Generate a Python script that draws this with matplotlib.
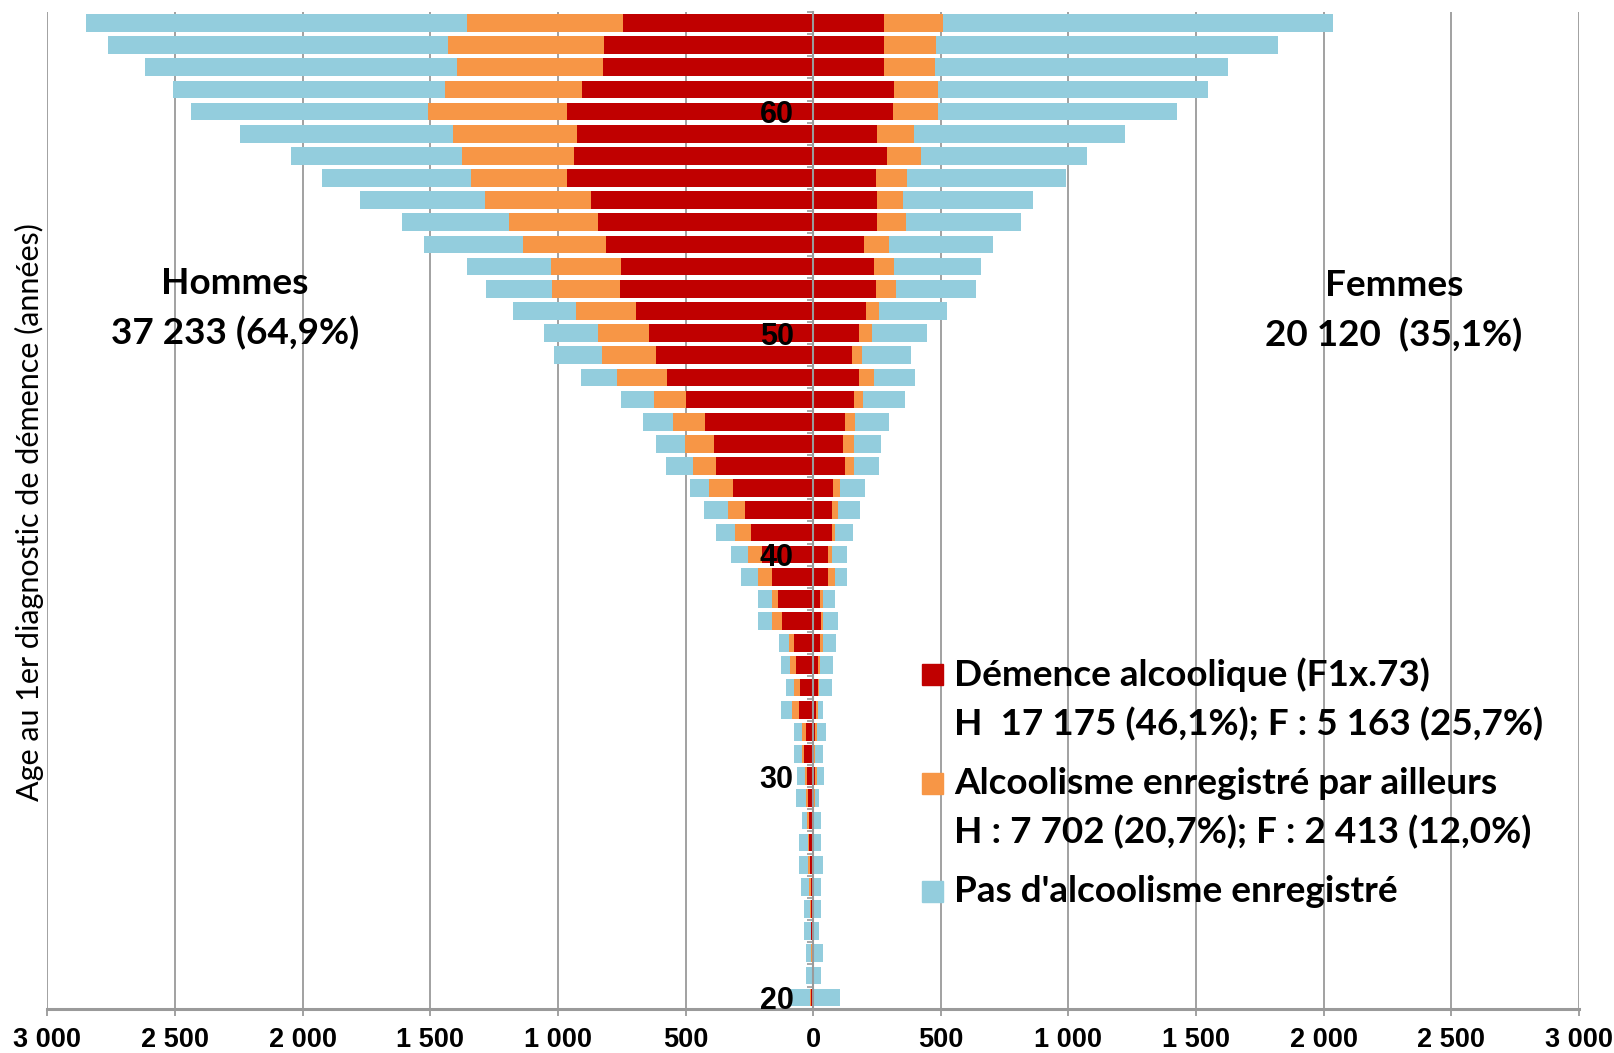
import matplotlib
matplotlib.use("Agg")
import matplotlib.pyplot as plt
import numpy as np
from matplotlib.patches import Rectangle
from matplotlib.ticker import FuncFormatter

# age at first dementia diagnosis, 20 .. 64
ages = np.arange(20, 65)

# men (counts per age, from 20 up to 64)
men_red = [8, 3, 4, 7, 8, 10, 14, 16, 17, 20,
           25, 35, 28, 56, 50, 69, 76, 123, 136, 162,
           200, 243, 268, 315, 382, 390, 424, 497, 571, 616,
           644, 696, 756, 751, 810, 844, 870, 964, 936, 924,
           964, 904, 824, 818, 744]
men_orange = [4, 3, 6, 3, 4, 6, 5, 6, 6, 9,
              9, 7, 14, 26, 26, 20, 19, 39, 26, 53,
              56, 65, 66, 93, 87, 113, 126, 126, 198, 213,
              198, 234, 266, 278, 325, 346, 414, 376, 440, 486,
              546, 540, 572, 612, 612]
men_blue = [83, 23, 19, 26, 24, 32, 36, 33, 19, 39,
            28, 33, 33, 46, 32, 39, 39, 53, 53, 67,
            65, 73, 94, 74, 107, 113, 118, 128, 140, 187,
            214, 246, 261, 327, 388, 420, 492, 584, 668, 834,
            926, 1064, 1220, 1334, 1494]

# women
women_red = [3, 2, 2, 2, 2, 2, 3, 3, 3, 3,
             9, 3, 9, 12, 18, 18, 25, 31, 25, 59,
             59, 72, 72, 78, 124, 117, 124, 158, 179, 151,
             179, 206, 245, 239, 198, 251, 251, 246, 290, 251,
             311, 317, 276, 276, 276]
women_orange = [2, 1, 1, 1, 2, 2, 2, 2, 2, 4,
                5, 6, 7, 6, 4, 7, 13, 7, 13, 26,
                13, 13, 26, 26, 34, 41, 40, 39, 60, 40,
                52, 52, 79, 78, 100, 114, 100, 123, 133, 144,
                178, 172, 200, 207, 232]
women_blue = [99, 28, 36, 20, 25, 27, 34, 26, 26, 16,
              30, 30, 35, 20, 50, 53, 53, 60, 47, 46,
              59, 72, 86, 100, 99, 106, 134, 161, 158, 193,
              213, 266, 313, 340, 405, 451, 511, 620, 651, 827,
              937, 1057, 1150, 1337, 1530]

age_labels = [20, 30, 40, 50, 60]
xticks = np.arange(-3000, 3001, 500)

legend_lines = [
    ("Démence alcoolique (F1x.73)", "H  17 175 (46,1%); F : 5 163 (25,7%)"),
    ("Alcoolisme enregistré par ailleurs", "H : 7 702 (20,7%); F : 2 413 (12,0%)"),
    ("Pas d'alcoolisme enregistré", None),
]

RED, ORANGE, BLUE = "#C00000", "#F79646", "#93CDDD"
GRID = "#9a9a9a"
NUM_FONT = ["Liberation Sans", "DejaVu Sans"]

W, H = 1615, 1053
fig = plt.figure(figsize=(W / 100, H / 100), dpi=100)
ax = fig.add_axes([47.4 / W, 1 - 1008.7 / H, (1579 - 47.4) / W, (1008.7 - 11.9) / H])

mr, mo, mb = map(np.array, (men_red, men_orange, men_blue))
wr, wo, wb = map(np.array, (women_red, women_orange, women_blue))
bh = 0.8

ax.barh(ages, -mr, height=bh, color=RED, zorder=2)
ax.barh(ages, -mo, left=-mr, height=bh, color=ORANGE, zorder=2)
ax.barh(ages, -mb, left=-(mr + mo), height=bh, color=BLUE, zorder=2)
ax.barh(ages, wr, height=bh, color=RED, zorder=2)
ax.barh(ages, wo, left=wr, height=bh, color=ORANGE, zorder=2)
ax.barh(ages, wb, left=wr + wo, height=bh, color=BLUE, zorder=2)

ax.set_xlim(-3000, 3000)
ax.set_ylim(19.5, 64.5)

# x axis
ax.set_xticks(xticks)
ax.xaxis.set_major_formatter(
    FuncFormatter(lambda v, p: f"{abs(int(v)):,}".replace(",", " "))
)
ax.xaxis.grid(True, color=GRID, lw=1.3)
ax.set_axisbelow(True)
ax.tick_params(axis="x", length=5, width=1.3, color=GRID, pad=8,
               labelsize=19.5)
for lab in ax.get_xticklabels():
    lab.set_fontfamily(NUM_FONT)
    lab.set_fontweight("bold")

# y axis sits on x = 0
ax.spines["left"].set_position(("data", 0))
ax.spines["left"].set_color(GRID)
ax.spines["left"].set_linewidth(1.5)
ax.spines["left"].set_zorder(5)
ax.spines["bottom"].set_color(GRID)
ax.spines["bottom"].set_linewidth(2.2)
ax.spines["top"].set_visible(False)
ax.spines["right"].set_visible(False)
ax.set_yticks(age_labels)
ax.set_yticks(np.arange(19.5, 65, 1), minor=True)
ax.tick_params(axis="y", which="major", length=0, pad=14, labelsize=22)
ax.tick_params(axis="y", which="minor", length=4, width=1.2, color=GRID)
for lab in ax.get_yticklabels():
    lab.set_fontfamily(NUM_FONT)
    lab.set_fontweight("bold")
ax.yaxis.set_zorder(5)


def fx(px):
    return px / W


def fy(py):
    return 1 - py / H


title_font = dict(family=["Lato", "DejaVu Sans"], fontweight="bold",
                  fontsize=26.6, ha="center", va="center")
fig.text(fx(235), fy(284), "Hommes", **title_font)
fig.text(fx(235), fy(333), "37 233 (64,9%)", **title_font)
fig.text(fx(1394), fy(285), "Femmes", **title_font)
fig.text(fx(1394), fy(335), "20 120  (35,1%)", **title_font)

fig.text(fx(29), fy(512), "Age au 1er diagnostic de démence (années)",
         family=["Lato", "DejaVu Sans"], fontsize=22, rotation=90,
         ha="center", va="center")

# legend drawn by hand so the swatch sits on the first line
leg_font = dict(family=["Lato", "DejaVu Sans"], fontweight="bold",
                fontsize=26.6, ha="left", va="center")
rows = [(674.5, 724), (783.6, 832), (891.7, None)]
for (first, second), (y1, y2), col in zip(legend_lines, rows, [RED, ORANGE, BLUE]):
    fig.patches.append(Rectangle((fx(922), fy(y1 + 10.5)), 21 / W, 21 / H,
                                 transform=fig.transFigure, color=col))
    fig.text(fx(954), fy(y1), first, **leg_font)
    if second:
        fig.text(fx(954), fy(y2), second, **leg_font)

fig.savefig("out.png", dpi=100)
